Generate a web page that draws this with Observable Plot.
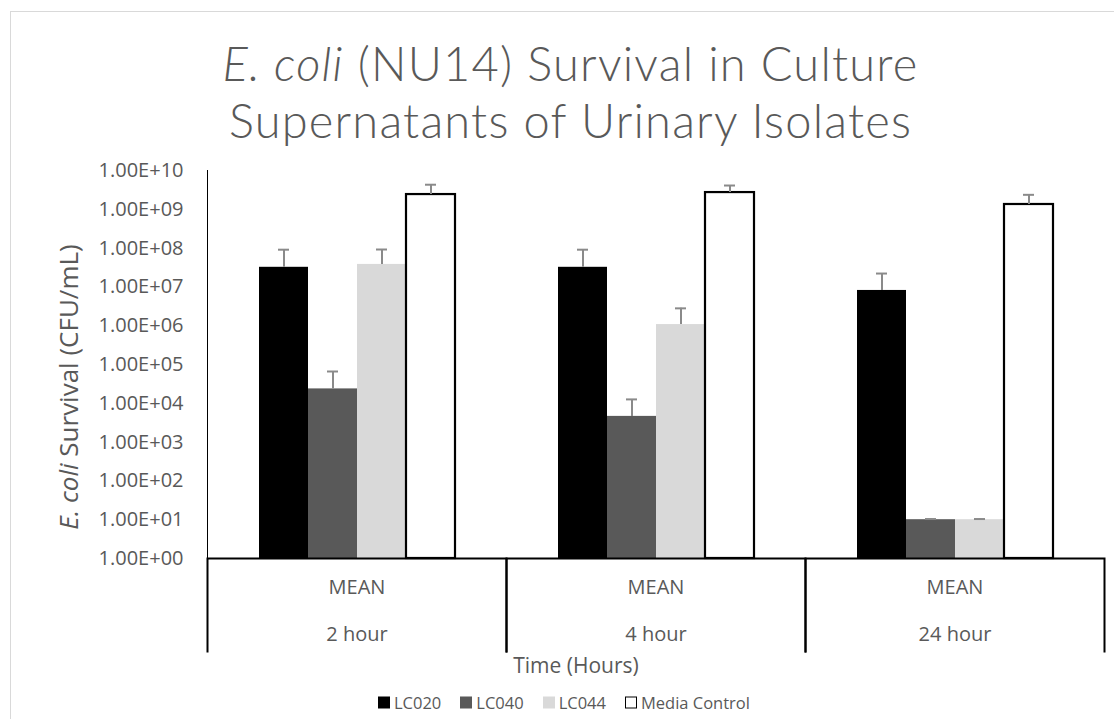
<!DOCTYPE html>
<html>
<head>
<meta charset="utf-8">
<script src="https://cdn.jsdelivr.net/npm/d3@7"></script>
<script src="https://cdn.jsdelivr.net/npm/@observablehq/plot@0.6"></script>
<style>
  html, body { margin: 0; padding: 0; background: #fff; }
  body { width: 1114px; height: 719px; overflow: hidden; position: relative; font-family: "Open Sans", "Noto Sans", sans-serif; color: #595959; }
  .border { position: absolute; left: 10px; top: 11px; width: 1300px; height: 900px; border: 1px solid #d9d9d9; }
  .title { position: absolute; left: 0; width: 1141px; text-align: center; font-family: Lato, "Open Sans", sans-serif; font-size: 47px; line-height: 57px; font-weight: 300; color: #595959; white-space: nowrap; letter-spacing: 1.2px; }
  .t1 { top: 35px; }
  .t2 { top: 92px; }
  .ylabel { position: absolute; left: 68px; top: 387px; transform: translate(-50%, -50%) rotate(-90deg); white-space: nowrap; font-size: 26px; color: #595959; }
  #chart { position: absolute; left: 0; top: 150px; }
  .xlabel { position: absolute; left: 576px; top: 665px; transform: translate(-50%, -50%); white-space: nowrap; font-size: 21px; color: #595959; }
  .legend { position: absolute; left: 378px; top: 702px; transform: translateY(-50%); display: flex; gap: 19px; font-size: 16.5px; color: #595959; white-space: nowrap; }
  .legend .item { display: flex; align-items: center; gap: 4px; }
  .legend .sw { width: 12px; height: 12px; box-sizing: border-box; }
  #chart g[aria-label^="y-axis"] text { fill: #595959; }
</style>
</head>
<body>
<div class="border"></div>
<div class="title t1"><i>E. coli</i> (NU14) Survival in Culture</div>
<div class="title t2">Supernatants of Urinary Isolates</div>
<div class="ylabel"><i>E. coli</i> Survival (CFU/mL)</div>
<div id="chart"></div>
<div class="xlabel">Time (Hours)</div>
<div class="legend" id="legend"></div>
<script>
// ---- data ----
const times = ["2 hour", "4 hour", "24 hour"];
const statLabel = "MEAN";
const series = ["LC020", "LC040", "LC044", "Media Control"];
const seriesColors = ["#000000", "#595959", "#d9d9d9", "#ffffff"];
// mean values (CFU/mL) per time point
const lc020 = [3.2e7, 3.2e7, 8.1e6];
const lc040 = [2.35e4, 4.6e3, 10];
const lc044 = [3.8e7, 1.07e6, 10];
const mediaControl = [2.4e9, 2.7e9, 1.33e9];
// upper error amounts
const lc020Err = [5.9e7, 5.9e7, 1.4e7];
const lc040Err = [4.25e4, 8.0e3, 0.4];
const lc044Err = [5.4e7, 1.73e6, 0.4];
const mediaControlErr = [1.9e9, 1.4e9, 1.03e9];
const yTicks = [1, 1e1, 1e2, 1e3, 1e4, 1e5, 1e6, 1e7, 1e8, 1e9, 1e10];

const valuesBySeries = [lc020, lc040, lc044, mediaControl];
const errBySeries = [lc020Err, lc040Err, lc044Err, mediaControlErr];
const rows = [];
times.forEach((t, i) => series.forEach((s, j) => rows.push({time: t, series: s, value: valuesBySeries[j][i], err: errBySeries[j][i]})));

// ---- layout ----
const W = 1114, H = 530, mTop = 20, mBottom = 122, mLeft = 207, mRight = 10;
const frameH = H - mTop - mBottom;
const facetW = (W - mLeft - mRight) / times.length;
const dividerLen = 94;

const fmt = d => "1.00E+" + String(Math.round(Math.log10(d))).padStart(2, "0");

const chart = Plot.plot({
  width: W, height: H,
  marginTop: mTop, marginBottom: mBottom, marginLeft: mLeft, marginRight: mRight,
  style: {fontFamily: "'Open Sans', sans-serif", fontSize: "20px", color: "#000", background: "transparent"},
  fx: {domain: times, paddingInner: 0, paddingOuter: 0, axis: null, label: null},
  x: {domain: series, paddingInner: 0, paddingOuter: 0.99, axis: null, label: null},
  y: {type: "log", domain: [1, 1e10], ticks: yTicks, tickFormat: fmt, tickSize: 0, tickPadding: 24, label: null, line: true},
  color: {domain: series, range: seriesColors},
  marks: [
    Plot.barY(rows.filter(d => d.series !== "Media Control"), {fx: "time", x: "series", y1: 1, y2: "value", fill: "series"}),
    Plot.barY(rows.filter(d => d.series === "Media Control"), {fx: "time", x: "series", y1: 1, y2: "value", fill: "#ffffff", stroke: "#000000", strokeWidth: 2.2}),
    Plot.ruleX(rows, {fx: "time", x: "series", y1: "value", y2: d => d.value + d.err, stroke: "#8a8a8a", strokeWidth: 2}),
    Plot.tickY(rows, {fx: "time", x: "series", y: d => d.value + d.err, stroke: "#8a8a8a", strokeWidth: 2, insetLeft: 19, insetRight: 19}),
    Plot.frame({insetTop: frameH, insetBottom: -dividerLen, stroke: "#000", strokeWidth: 2,
      strokeDasharray: `${facetW + dividerLen},${facetW},${dividerLen}`}),
    Plot.text(times, {fx: d => d, text: () => statLabel, frameAnchor: "bottom", dy: 35, fill: "#595959", fontSize: 20}),
    Plot.text(times, {fx: d => d, text: d => d, frameAnchor: "bottom", dy: 82, fill: "#595959", fontSize: 20})
  ]
});
document.getElementById("chart").appendChild(chart);

// legend
const legend = document.getElementById("legend");
series.forEach((s, j) => {
  const item = document.createElement("div");
  item.className = "item";
  const sw = document.createElement("div");
  sw.className = "sw";
  sw.style.background = seriesColors[j];
  if (s === "Media Control") sw.style.border = "1.5px solid #000";
  const lab = document.createElement("span");
  lab.textContent = s;
  item.appendChild(sw); item.appendChild(lab);
  legend.appendChild(item);
});
</script>
</body>
</html>
